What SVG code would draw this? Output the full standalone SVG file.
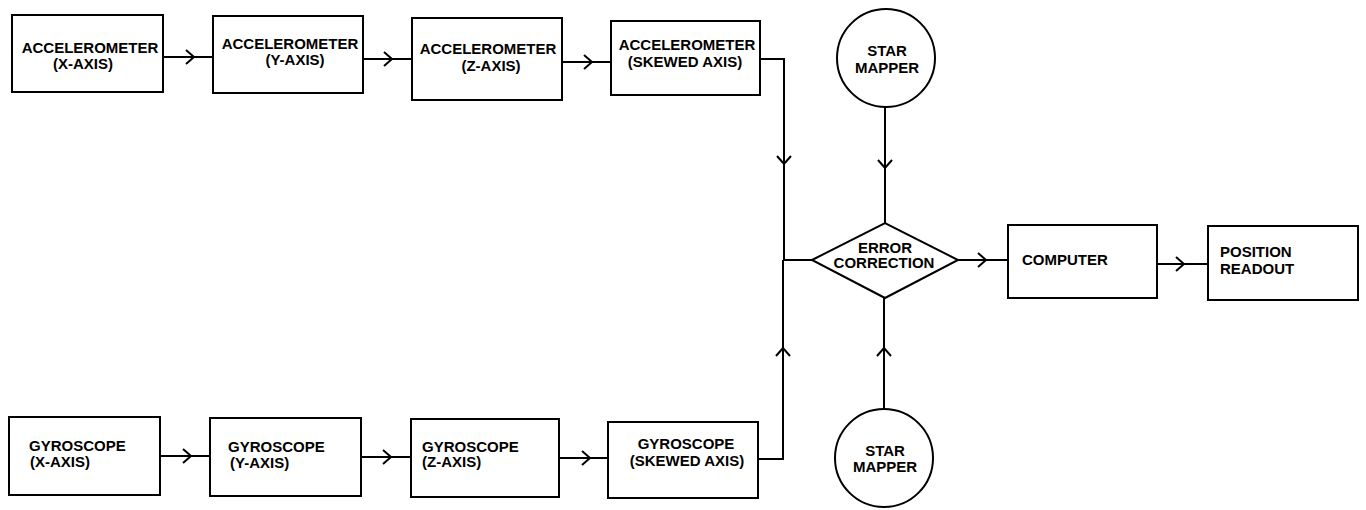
<svg xmlns="http://www.w3.org/2000/svg" xmlns:xlink="http://www.w3.org/1999/xlink" width="1366" height="510" viewBox="0 0 1366 510">
<style>
.box{fill:#fff;stroke:#000;stroke-width:2}
.ln{fill:none;stroke:#000;stroke-width:2}
.ch{fill:none;stroke:#000;stroke-width:2;stroke-linejoin:miter}
text{font-family:"Liberation Sans",Arial,sans-serif;font-weight:bold;font-size:15px;fill:#000}
.m{text-anchor:middle}
</style>
<defs>
<path id="chev" d="M-8,-7 L0,0 L-8,7" class="ch"/>
</defs>
<rect width="1366" height="510" fill="#fff"/>
<g id="connectors">
<path class="ln" d="M163,57 H213"/>
<use xlink:href="#chev" href="#chev" transform="translate(194,57)"/>
<path class="ln" d="M363,59 H412"/>
<use xlink:href="#chev" href="#chev" transform="translate(392,59)"/>
<path class="ln" d="M562,62 H611"/>
<use xlink:href="#chev" href="#chev" transform="translate(592,62)"/>
<path class="ln" d="M760,59 H784 V260"/>
<use xlink:href="#chev" href="#chev" transform="translate(784,164) rotate(90)"/>
<path class="ln" d="M758,459 H783 V260"/>
<use xlink:href="#chev" href="#chev" transform="translate(783,348) rotate(-90)"/>
<path class="ln" d="M783,260 H812"/>
<path class="ln" d="M885,107 V223"/>
<use xlink:href="#chev" href="#chev" transform="translate(885,168) rotate(90)"/>
<path class="ln" d="M884,409 V298"/>
<use xlink:href="#chev" href="#chev" transform="translate(884,348) rotate(-90)"/>
<path class="ln" d="M958,260 H1008"/>
<use xlink:href="#chev" href="#chev" transform="translate(986,260)"/>
<path class="ln" d="M1157,264 H1208"/>
<use xlink:href="#chev" href="#chev" transform="translate(1184,264)"/>
<path class="ln" d="M160,456 H210"/>
<use xlink:href="#chev" href="#chev" transform="translate(191,456)"/>
<path class="ln" d="M361,457 H411"/>
<use xlink:href="#chev" href="#chev" transform="translate(391,457)"/>
<path class="ln" d="M559,458 H608"/>
<use xlink:href="#chev" href="#chev" transform="translate(590,458)"/>
</g>
<g id="acc-x"><rect class="box" x="12" y="15" width="151" height="77"/>
<text class="m" x="90" y="53">ACCELEROMETER</text><text class="m" x="83" y="69">(X-AXIS)</text></g>
<g id="acc-y"><rect class="box" x="213" y="16" width="150" height="77"/>
<text class="m" x="290" y="49">ACCELEROMETER</text><text class="m" x="295" y="65">(Y-AXIS)</text></g>
<g id="acc-z"><rect class="box" x="412" y="18" width="150" height="82"/>
<text class="m" x="488" y="54">ACCELEROMETER</text><text class="m" x="491" y="71">(Z-AXIS)</text></g>
<g id="acc-s"><rect class="box" x="611" y="21" width="149" height="74"/>
<text class="m" x="687" y="50">ACCELEROMETER</text><text class="m" x="685" y="67">(SKEWED AXIS)</text></g>
<g id="gyro-x"><rect class="box" x="9" y="417" width="151" height="78"/>
<text x="29" y="451">GYROSCOPE</text><text x="30" y="467">(X-AXIS)</text></g>
<g id="gyro-y"><rect class="box" x="210" y="418" width="151" height="78"/>
<text x="228" y="452">GYROSCOPE</text><text x="230" y="468">(Y-AXIS)</text></g>
<g id="gyro-z"><rect class="box" x="411" y="419" width="148" height="78"/>
<text x="422" y="452">GYROSCOPE</text><text x="422" y="467">(Z-AXIS)</text></g>
<g id="gyro-s"><rect class="box" x="608" y="422" width="150" height="76"/>
<text class="m" x="686" y="449">GYROSCOPE</text><text class="m" x="687" y="466">(SKEWED AXIS)</text></g>
<g id="star-top"><circle class="box" cx="886" cy="58" r="49"/>
<text class="m" x="887" y="56">STAR</text><text class="m" x="887" y="73">MAPPER</text></g>
<g id="star-bottom"><circle class="box" cx="884" cy="458" r="49"/>
<text class="m" x="885" y="456">STAR</text><text class="m" x="885" y="472">MAPPER</text></g>
<g id="error-correction"><path class="box" d="M812,260 L885,223 L958,260 L885,298 Z"/>
<text class="m" x="885" y="253">ERROR</text><text class="m" x="884" y="268">CORRECTION</text></g>
<g id="computer"><rect class="box" x="1008" y="225" width="149" height="73"/>
<text x="1022" y="265">COMPUTER</text></g>
<g id="position-readout"><rect class="box" x="1208" y="226" width="150" height="74"/>
<text x="1220" y="257">POSITION</text><text x="1220" y="274">READOUT</text></g>
</svg>
